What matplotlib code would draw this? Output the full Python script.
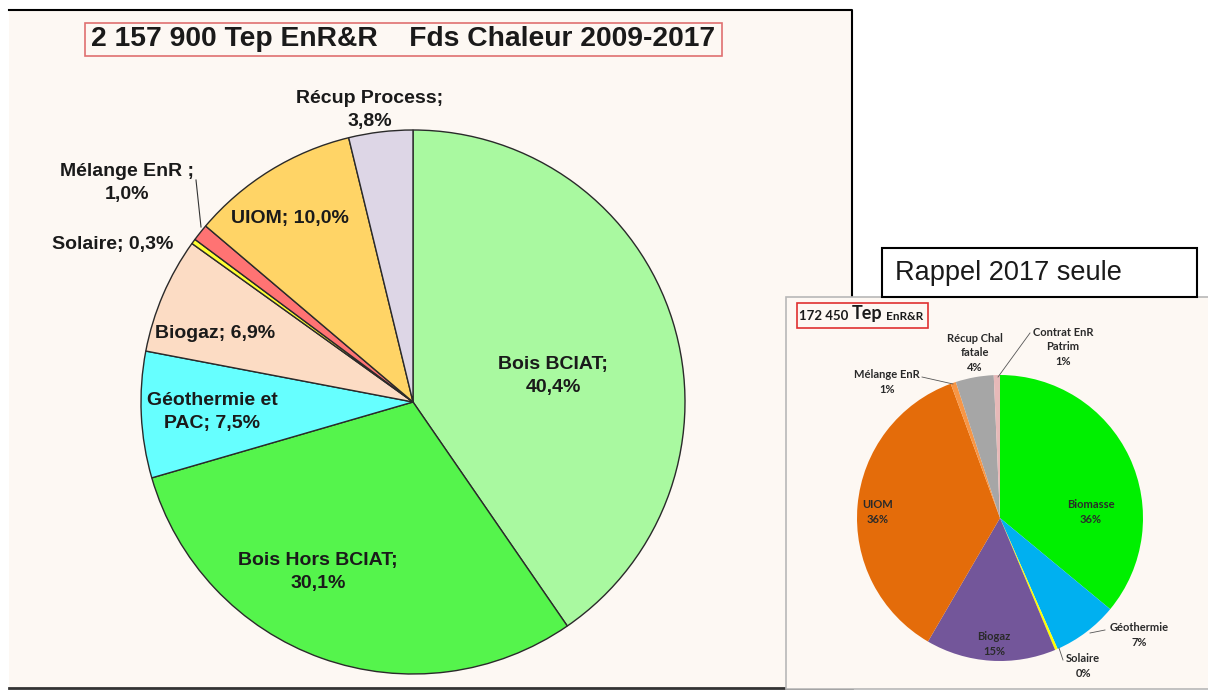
import matplotlib.pyplot as plt
from matplotlib.patches import Rectangle

# --- data : Fonds Chaleur 2009-2017 (cumul) ---
labels_cumul = ["Bois BCIAT", "Bois Hors BCIAT", "Géothermie et\nPAC", "Biogaz",
                "Solaire", "Mélange EnR ", "UIOM", "Récup Process"]
shares_cumul = [40.4, 30.1, 7.5, 6.9, 0.3, 1.0, 10.0, 3.8]
colors_cumul = ["#a9f9a0", "#55f44c", "#66ffff", "#fcdcc4",
                "#ffff33", "#ff7373", "#ffd466", "#ddd6e6"]

# --- data : 2017 seule ---
labels_2017 = ["Biomasse", "Géothermie", "Solaire", "Biogaz",
               "UIOM", "Mélange EnR", "Récup Chal\nfatale", "Contrat EnR\nPatrim"]
shares_2017 = [36.0, 7.4, 0.3, 14.7, 36.0, 0.6, 4.3, 0.7]
colors_2017 = ["#00f000", "#00b0f0", "#ffff00", "#73569a",
               "#e46c0a", "#f79646", "#a6a6a6", "#e6b9b8"]

H = 697
BG = "#fdf8f3"
TXT = "#1a1a1a"


def Y(y):
    # image coordinates (top-down) -> axes coordinates
    return H - y


fig = plt.figure(figsize=(12.08, 6.97), dpi=100)
ax = fig.add_axes([0, 0, 1, 1])

# left panel
ax.add_patch(Rectangle((9, Y(688)), 843, 677, facecolor=BG, edgecolor="none", zorder=0))
ax.plot([9, 852, 852], [Y(10), Y(10), Y(688)], color="black", lw=1.5, zorder=1)
ax.plot([9, 852], [Y(688), Y(688)], color="#333333", lw=2, zorder=1)

ax.add_patch(Rectangle((85, Y(56)), 637, 33, facecolor="none", edgecolor="#e07070", lw=1.2, zorder=3))
ax.text(403, Y(39), "2 157 900 Tep EnR&R    Fds Chaleur 2009-2017", ha="center", va="center",
        fontsize=20.3, fontweight="bold", family="Liberation Sans", color=TXT, zorder=4)

wedges, _ = ax.pie(shares_cumul, colors=colors_cumul, startangle=90, counterclock=False,
                   center=(413, Y(402)), radius=272,
                   wedgeprops=dict(edgecolor="#2a2a2a", linewidth=1))

fmt = lambda v: f"{v:.1f}".replace(".", ",") + "%"
pos_cumul = [(553, 376), (318, 572), (212, 412), (215, 333),
             (113, 245), (127, 183), (290, 219), (370, 110)]
sep_cumul = ["\n", "\n", " ", " ", " ", "\n", " ", "\n"]
for lab, v, (x, y), sep in zip(labels_cumul, shares_cumul, pos_cumul, sep_cumul):
    ax.text(x, Y(y), f"{lab};{sep}{fmt(v)}", ha="center", va="center", fontsize=14,
            fontweight="bold", family="Liberation Sans", color=TXT, linespacing=1.4, zorder=5)
# leader line for Mélange EnR
ax.plot([196, 201], [Y(180), Y(227)], color="#333333", lw=0.8, zorder=5)

# right panel
ax.add_patch(Rectangle((786, Y(689)), 430, 392, facecolor=BG, edgecolor="#b8b8b8", lw=1.2, zorder=6))
ax.add_patch(Rectangle((882, Y(297)), 315, 49, facecolor="white", edgecolor="black", lw=1.5, zorder=6))
ax.text(895, Y(273), "Rappel 2017 seule", ha="left", va="center", fontsize=19.5,
        family="Liberation Sans", color=TXT, zorder=7)

ax.add_patch(Rectangle((797, Y(328)), 131, 25, facecolor="none", edgecolor="#e03030", lw=1.2, zorder=7))
ax.text(799, Y(316), "172 450", ha="left", va="center", fontsize=9.5, fontweight="bold",
        family="Lato", color=TXT, zorder=8)
ax.text(852, Y(314), "Tep", ha="left", va="center", fontsize=13, fontweight="bold",
        family="Lato", color=TXT, zorder=8)
ax.text(886, Y(316), "EnR&R", ha="left", va="center", fontsize=8.5, fontweight="bold",
        family="Lato", color=TXT, zorder=8)

wedges2, _ = ax.pie(shares_2017, colors=colors_2017, startangle=90, counterclock=False,
                    center=(1000, Y(518)), radius=143,
                    wedgeprops=dict(edgecolor="none"))
for w in wedges2:
    w.set_zorder(7)

pos_2017 = [(1091, 512), (1139, 635), (1083, 666), (994, 644),
            (878, 512), (887, 382), (975, 353), (1063, 347)]
for lab, v, (x, y) in zip(labels_2017, shares_2017, pos_2017):
    ax.text(x, Y(y), f"{lab}\n{v:.0f}%", ha="center", va="center", fontsize=8,
            fontweight="bold", family="Lato", color="#2a2a2a", linespacing=1.35, zorder=9)
leaders = [((1105, 630), (1090, 633)), ((1063, 660), (1059, 648)),
           ((922, 377), (953, 384)), ((1030, 333), (998, 377))]
for (x0, y0), (x1, y1) in leaders:
    ax.plot([x0, x1], [Y(y0), Y(y1)], color="#555555", lw=0.6, zorder=9)

ax.set_xlim(0, 1208)
ax.set_ylim(0, H)
ax.set_aspect("auto")
ax.axis("off")
fig.savefig("out.png", dpi=100, facecolor="white")
